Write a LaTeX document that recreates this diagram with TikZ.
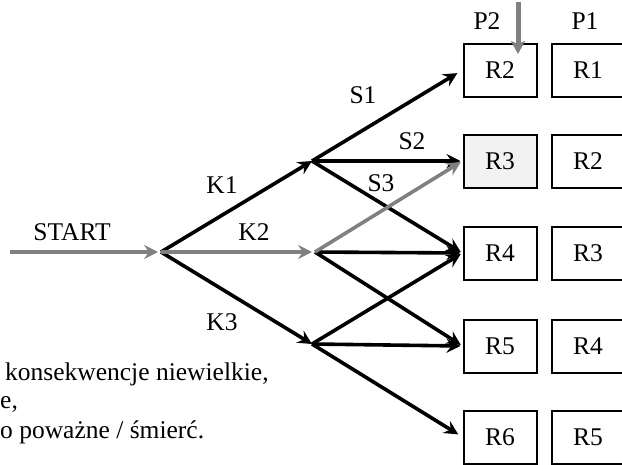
\documentclass[tikz,border=0pt]{standalone}
\usepackage{fontspec}
\setmainfont{Liberation Serif}
\usetikzlibrary{arrows.meta}

\definecolor{arrowgray}{RGB}{128,128,128}
\definecolor{boxfill}{RGB}{242,242,242}

\begin{document}
\begin{tikzpicture}[
  x=1pt, y=-1pt,
  font=\fontsize{25.5}{30}\selectfont,
  tip/.style={-{Stealth[length=14pt, width=14pt, inset=5pt]}},
  blk/.style={tip, line width=3.6pt, draw=black},
  gry/.style={tip, line width=3.6pt, draw=arrowgray},
  rbox/.style={
    draw, line width=2pt, inner sep=0pt,
    minimum width=73pt, minimum height=53pt,
  },
  lbl/.style={inner sep=0pt},
]
\useasboundingbox (0,0) rectangle (622,464);

% ── branch points ────────────────────────────────────────
\coordinate (go) at (10,252);
\coordinate (k)  at (161,252);
\coordinate (s1) at (312,161);
\coordinate (s2) at (315,252);
\coordinate (s3) at (312,344);

% ── result boxes: P2 column, P1 column ───────────────────
\node[lbl] (p2) at (487,21) {P2};
\node[lbl] (p1) at (585,21) {P1};
\foreach \n/\y/\a/\b in {2/70/R2/R1, 3/161/R3/R2, 4/253/R4/R3, 5/346/R5/R4, 6/437/R6/R5} {
  \node[rbox] (r\n) at (500,\y) {\a};
  \node[rbox] (q\n) at (588,\y) {\b};
}
\node[rbox, fill=boxfill] (r3) at (500,161) {R3};

% ── first decision: K1, K2, K3 ───────────────────────────
\node[lbl] (start) at (72,232) {START};
\draw[gry, shorten >=3pt] (go) -- (k);
\draw[blk] (k) -- (s1);
\draw[blk] (k) -- (s3);
\draw[gry, shorten >=3pt] (k) -- (s2);
\node[lbl] at (222,185) {K1};
\node[lbl] at (254,232) {K2};
\node[lbl] at (222,322) {K3};

% ── second decision: S1, S2, S3 ──────────────────────────
\draw[blk, shorten >=6pt] (s1) -- (r2.west);
\draw[blk, shorten >=2pt] (s1) -- (r3.west);
\draw[blk, shorten >=2pt] (s1) -- (r4.west);
\node[lbl] at (363,95)  {S1};
\node[lbl] at (412,141) {S2};
\node[lbl] at (381,183) {S3};

\draw[blk, shorten >=2pt] (s2) -- (r4.west);
\draw[blk, shorten >=2pt] (s2) -- (r5.west);
\draw[blk, shorten >=2pt] (s3) -- (r4.west);
\draw[blk, shorten >=2pt] (s3) -- (r5.west);
\draw[blk, shorten >=5pt] (s3) -- (r6.west);
\draw[gry, shorten >=2pt] (s2) -- (r3.west);

% ── drop into P2 ─────────────────────────────────────────
\coordinate (dtop) at (518,2);
\coordinate (dend) at (518,54);
\draw[draw=arrowgray, line width=5pt,
      -{Stealth[length=13pt, width=14pt, inset=3pt]}] (dtop) -- (dend);

% ── legend lines ─────────────────────────────────────────
\node[lbl, anchor=base west] (t1) at (5,380) {konsekwencje niewielkie,};
\node[lbl, anchor=base west] (t2) at (0,408) {e,};
\node[lbl, anchor=base west] (t3) at (0,438) {o poważne / śmierć.};

\end{tikzpicture}
\end{document}
